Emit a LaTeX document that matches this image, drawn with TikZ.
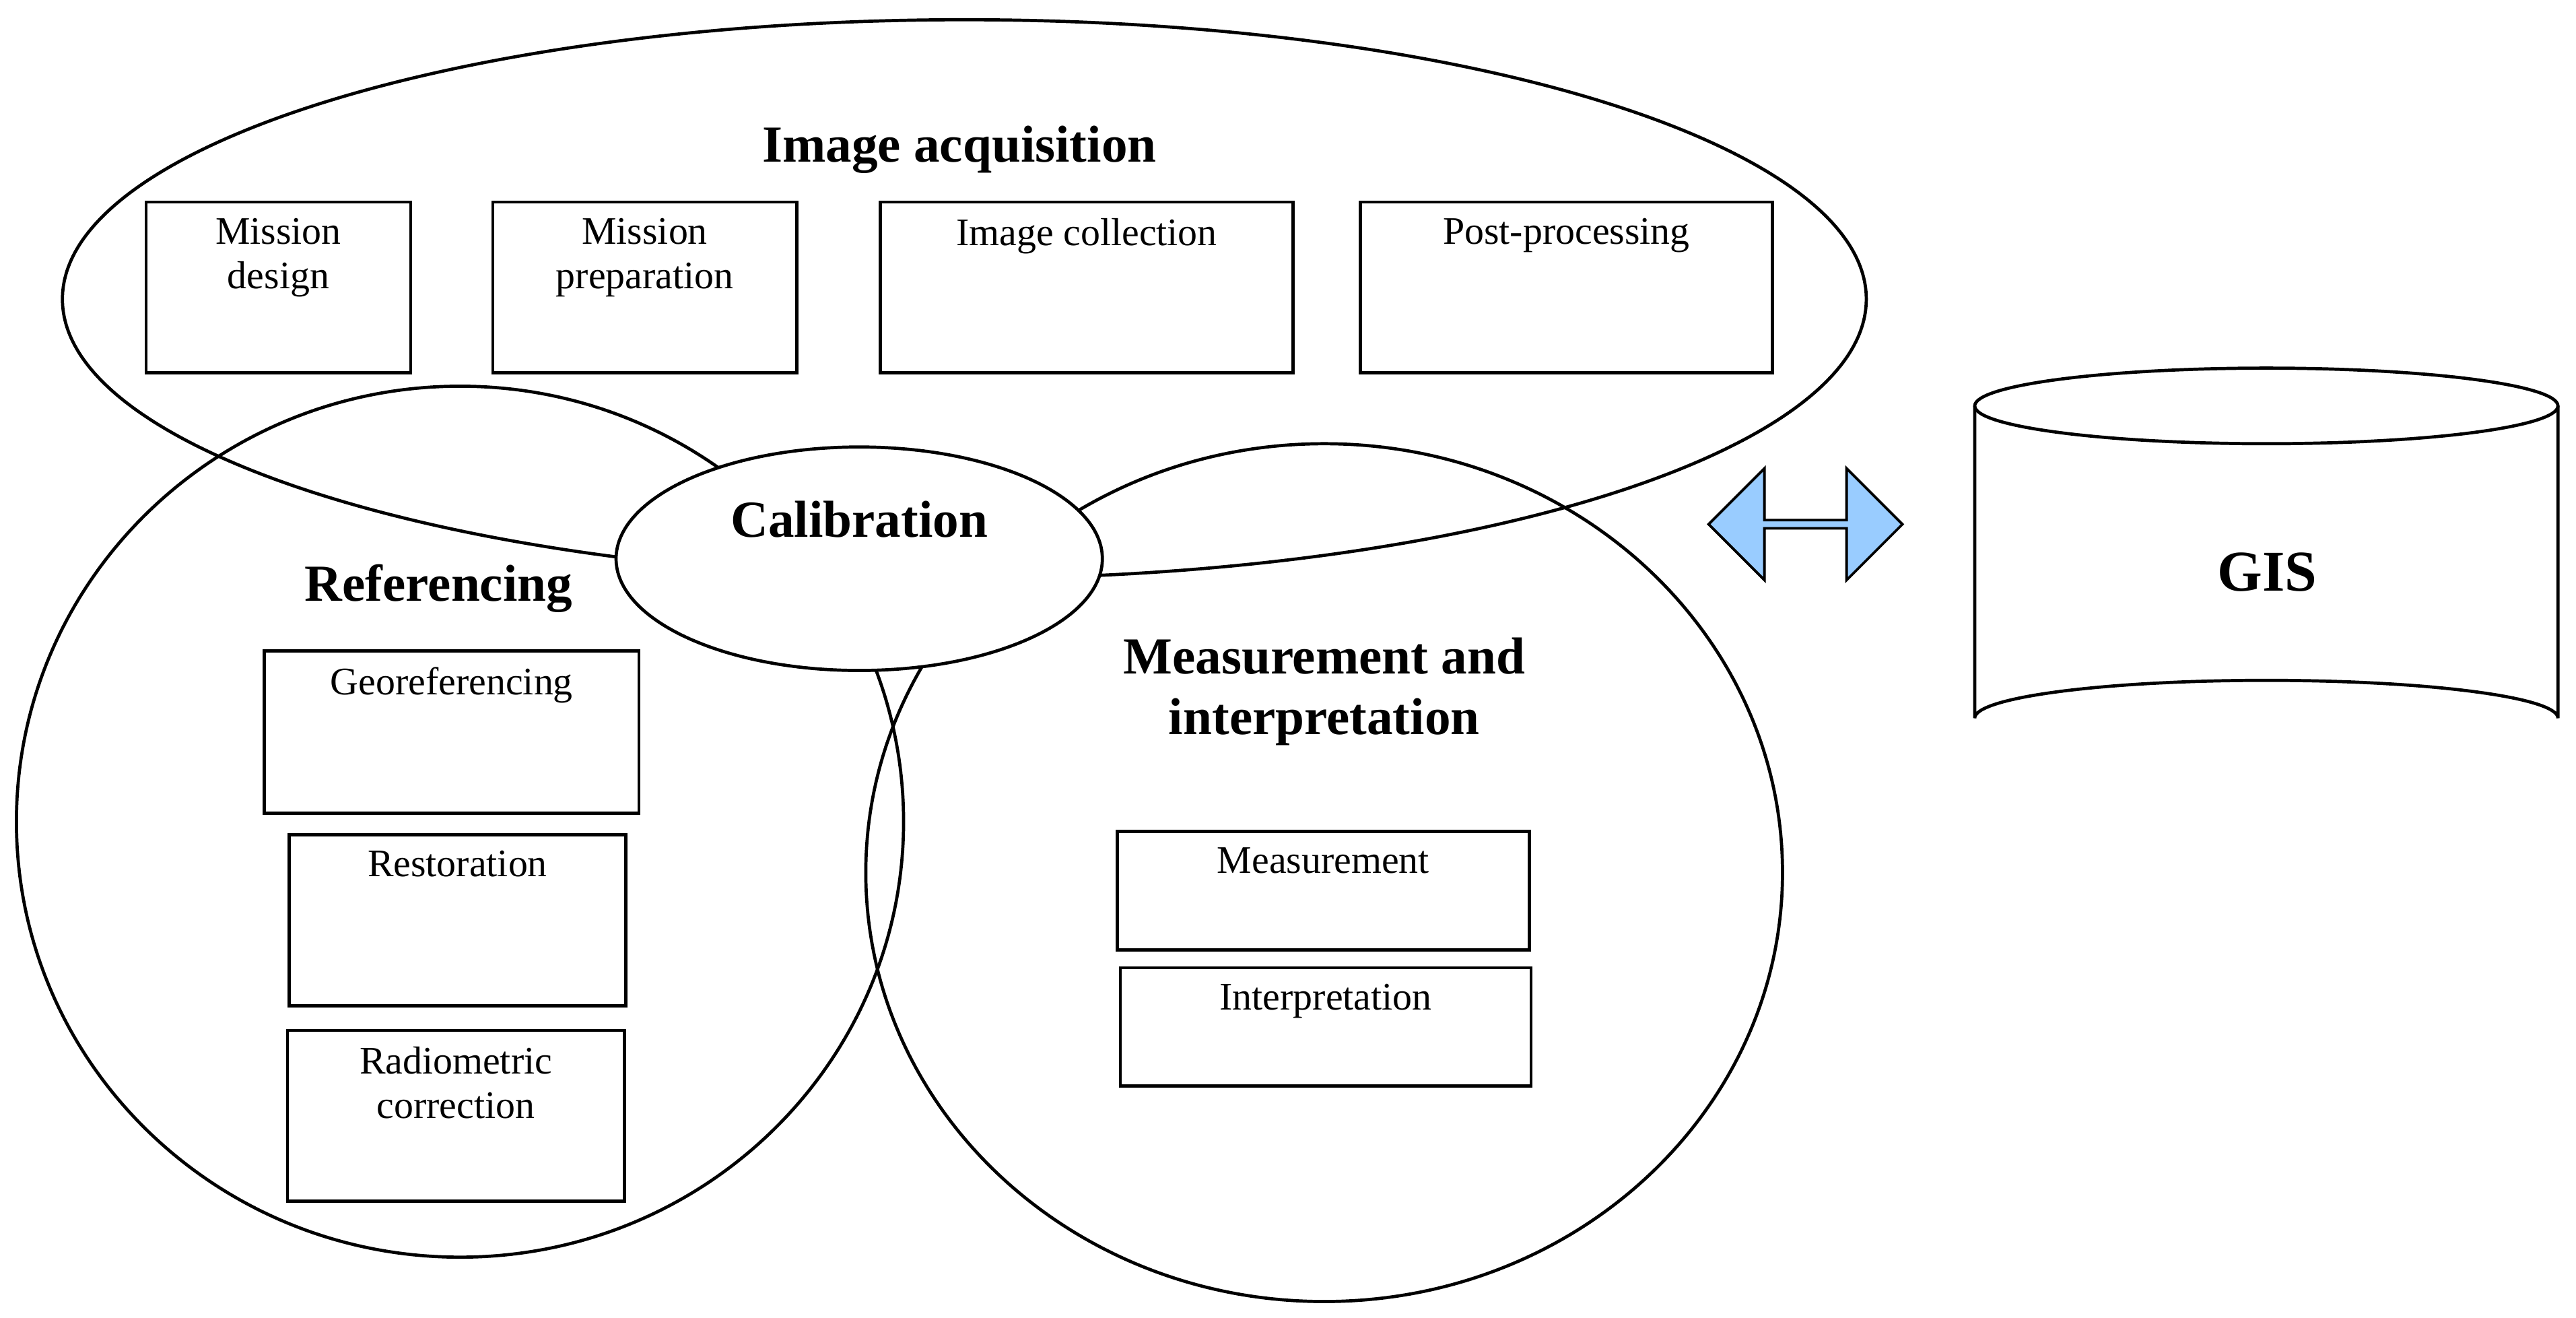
\documentclass[tikz,border=0pt]{standalone}
\usepackage{fontspec}
\setmainfont{Liberation Serif}
\usetikzlibrary{shapes.geometric,shapes.arrows}
\begin{document}
\begin{tikzpicture}[x=0.02cm,y=-0.02cm,line width=1.1pt,
  box/.style={draw,rectangle,anchor=north west,inner sep=0pt},
  txt/.style={font=\fontsize{13.5}{15.5}\selectfont,align=center,anchor=north},
  head/.style={font=\fontsize{18}{21}\selectfont\bfseries,align=center}]
\useasboundingbox (0,0) rectangle (1568,802);
\draw (587,182) ellipse [x radius=549,y radius=170];
\draw (280,500) ellipse [x radius=270,y radius=265];
\draw (806,531) ellipse [x radius=279,y radius=261];
\node[draw,fill=white,ellipse,minimum width=296*0.02cm,minimum height=136*0.02cm,inner sep=0pt] (cal) at (523,340) {};
\node[head] (calt) at (523,316) {Calibration};
\node[head] (ia) at (584,91) {Image acquisition};
\node[head] (ref) at (267,358) {Referencing};
\node[head] (mi) at (806,421) {Measurement and\\interpretation};
% boxes
\newcommand\bx[6]{\node[box,minimum width={(#4-#2)*0.02cm},minimum height={(#5-#3)*0.02cm}] (#1) at (#2,#3) {};
  \node[txt] at ([yshift=-0.08cm]#1.north) {#6};}
\bx{md}{88}{122}{249}{226}{Mission\\design}
\bx{mp}{299}{122}{484}{226}{Mission\\preparation}
\bx{ic}{535}{122}{786}{226}{Image collection}
\bx{pp}{827}{122}{1078}{226}{Post-processing}
\bx{geo}{160}{395}{388}{494}{Georeferencing}
\bx{res}{175}{507}{380}{611}{Restoration}
\bx{rad}{174}{626}{379}{730}{Radiometric\\correction}
\bx{mea}{679}{505}{930}{577}{Measurement}
\bx{int}{681}{588}{931}{660}{Interpretation}
% arrow
\node[draw,fill={rgb,255:red,153;green,204;blue,255},double arrow,double arrow head extend=0.2cm,
  minimum width=68*0.02cm,minimum height=118*0.02cm,inner sep=0pt,line width=0.9pt] (arr) at (1099,319) {};
% cylinder
\draw[fill=white] (1202,247) -- (1202,437) arc[start angle=180,end angle=360,x radius=177.5,y radius=23] -- (1557,247);
\draw (1379.5,247) ellipse [x radius=177.5,y radius=23];
\node[font=\fontsize{20}{24}\selectfont\bfseries] (gis) at (1380,348) {GIS};
\end{tikzpicture}
\end{document}
